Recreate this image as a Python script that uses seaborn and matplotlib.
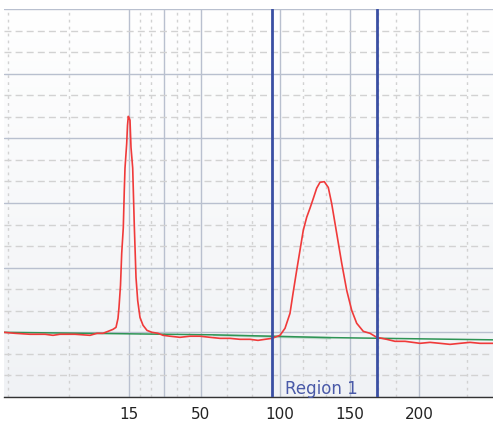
import numpy as np
import pandas as pd
import matplotlib
matplotlib.use("Agg")
import matplotlib.pyplot as plt
from matplotlib.colors import LinearSegmentedColormap
import seaborn as sns

# ---- data ----
trace_x = [4, 15, 30, 45, 53, 60, 75, 90, 97, 103, 108, 113, 116, 118, 119, 120.5, 121.7,
           123.3, 124.3, 125, 126.7, 127.5, 128.3, 129.3, 130, 131, 132.7, 134.3, 136, 137.7,
           140, 143, 147, 152, 158, 163, 170, 180, 190, 200, 210, 220, 230, 240, 250, 258,
           265, 272, 280, 285, 290, 293, 296.7, 300, 303.3, 306.7, 310, 313.3, 316.7, 320,
           324.3, 328.3, 331.7, 336.7, 341.7, 346.7, 351.7, 356.7, 363.3, 370, 376.7, 386.7,
           395, 405, 420, 430, 440, 450, 460, 470, 480, 493]
trace_y = [0.0, -0.015, -0.03, -0.03, -0.046, -0.03, -0.03, -0.046, -0.015, -0.015, 0.015,
           0.046, 0.077, 0.216, 0.387, 0.727, 1.22, 1.62, 2.20, 2.54, 2.92, 3.20, 3.34, 3.31,
           3.28, 2.86, 2.54, 1.65, 0.85, 0.49, 0.23, 0.11, 0.03, 0.0, -0.015, -0.046, -0.06,
           -0.077, -0.06, -0.06, -0.077, -0.093, -0.093, -0.108, -0.108, -0.124, -0.108,
           -0.093, -0.046, 0.062, 0.294, 0.60, 0.96, 1.27, 1.58, 1.78, 1.92, 2.07, 2.23, 2.32,
           2.33, 2.24, 1.99, 1.53, 1.07, 0.65, 0.34, 0.14, 0.015, -0.015, -0.077, -0.108,
           -0.139, -0.139, -0.17, -0.155, -0.17, -0.186, -0.17, -0.155, -0.17, -0.17]

base_x = [4, 213, 213, 330, 330, 493]
base_y = [0.0, -0.031, -0.046, -0.07, -0.093, -0.116]

tick_pos = [129, 164, 201, 280, 350, 419]
tick_labels = ["15", "", "50", "100", "150", "200"]
minor_pos = [8, 69, 140, 151, 177, 189, 227, 252, 303, 326, 378, 396, 467]

region_bounds = [272, 377]
region_label = "Region 1"

# ---- figure ----
sns.set_style("white")
plt.rcParams['font.family'] = ['DejaVu Sans']

fig = plt.figure(figsize=(4.93, 4.25), dpi=100)
ax = fig.add_axes([4 / 493, 28 / 425, 489 / 493, 388 / 425])

# soft vertical background gradient (white at top -> pale grey at bottom)
grad_cmap = LinearSegmentedColormap.from_list("bg", ["#f0f2f5", "#ffffff"])
ax.imshow(np.linspace(0, 1, 256).reshape(-1, 1), aspect="auto", cmap=grad_cmap,
          extent=(4, 493, -1, 5), origin="lower", zorder=0)

df_trace = pd.DataFrame({"x": trace_x, "y": trace_y})
df_base = pd.DataFrame({"x": base_x, "y": base_y})

sns.lineplot(data=df_base, x="x", y="y", ax=ax, color="#2e9455", linewidth=1.1,
             sort=False, zorder=3)
sns.lineplot(data=df_trace, x="x", y="y", ax=ax, color="#f03a3a", linewidth=1.2,
             sort=False, zorder=4)

for xb in region_bounds:
    ax.axvline(xb, color="#3a4fa3", linewidth=2.0, zorder=5)

ax.text(321, -0.95, region_label, color="#4a5aa8", fontsize=12, ha="center",
        va="baseline", zorder=6)

ax.set_xlim(4, 493)
ax.set_ylim(-1, 5)

ax.set_xticks(tick_pos)
ax.set_xticklabels(tick_labels, fontsize=11, color="#222222")
ax.set_xticks(minor_pos, minor=True)
ax.set_yticks(range(-1, 6))
ax.set_yticks([v + f for v in range(-1, 5) for f in (1 / 3, 2 / 3)], minor=True)
ax.set_yticklabels([])

ax.tick_params(axis="x", which="major", length=4, width=0.8, color="#333333", pad=3)
ax.tick_params(axis="x", which="minor", length=0)
ax.tick_params(axis="y", which="both", length=0)

ax.set_axisbelow(True)
ax.xaxis.grid(True, which="major", color="#b9c0cf", linewidth=1.0, linestyle="-")
ax.xaxis.grid(True, which="minor", color="#d2d2d2", linewidth=1.0, linestyle=(0, (2, 3)))
ax.yaxis.grid(True, which="major", color="#b9c0cf", linewidth=1.0, linestyle="-")
ax.yaxis.grid(True, which="minor", color="#d2d2d2", linewidth=1.0, linestyle=(0, (5, 3)))

for s in ["top", "right", "left"]:
    ax.spines[s].set_visible(False)
ax.spines["bottom"].set_color("#333333")
ax.spines["bottom"].set_linewidth(1.0)

ax.set_xlabel("")
ax.set_ylabel("")

fig.savefig("out.png", dpi=100, facecolor="white")
